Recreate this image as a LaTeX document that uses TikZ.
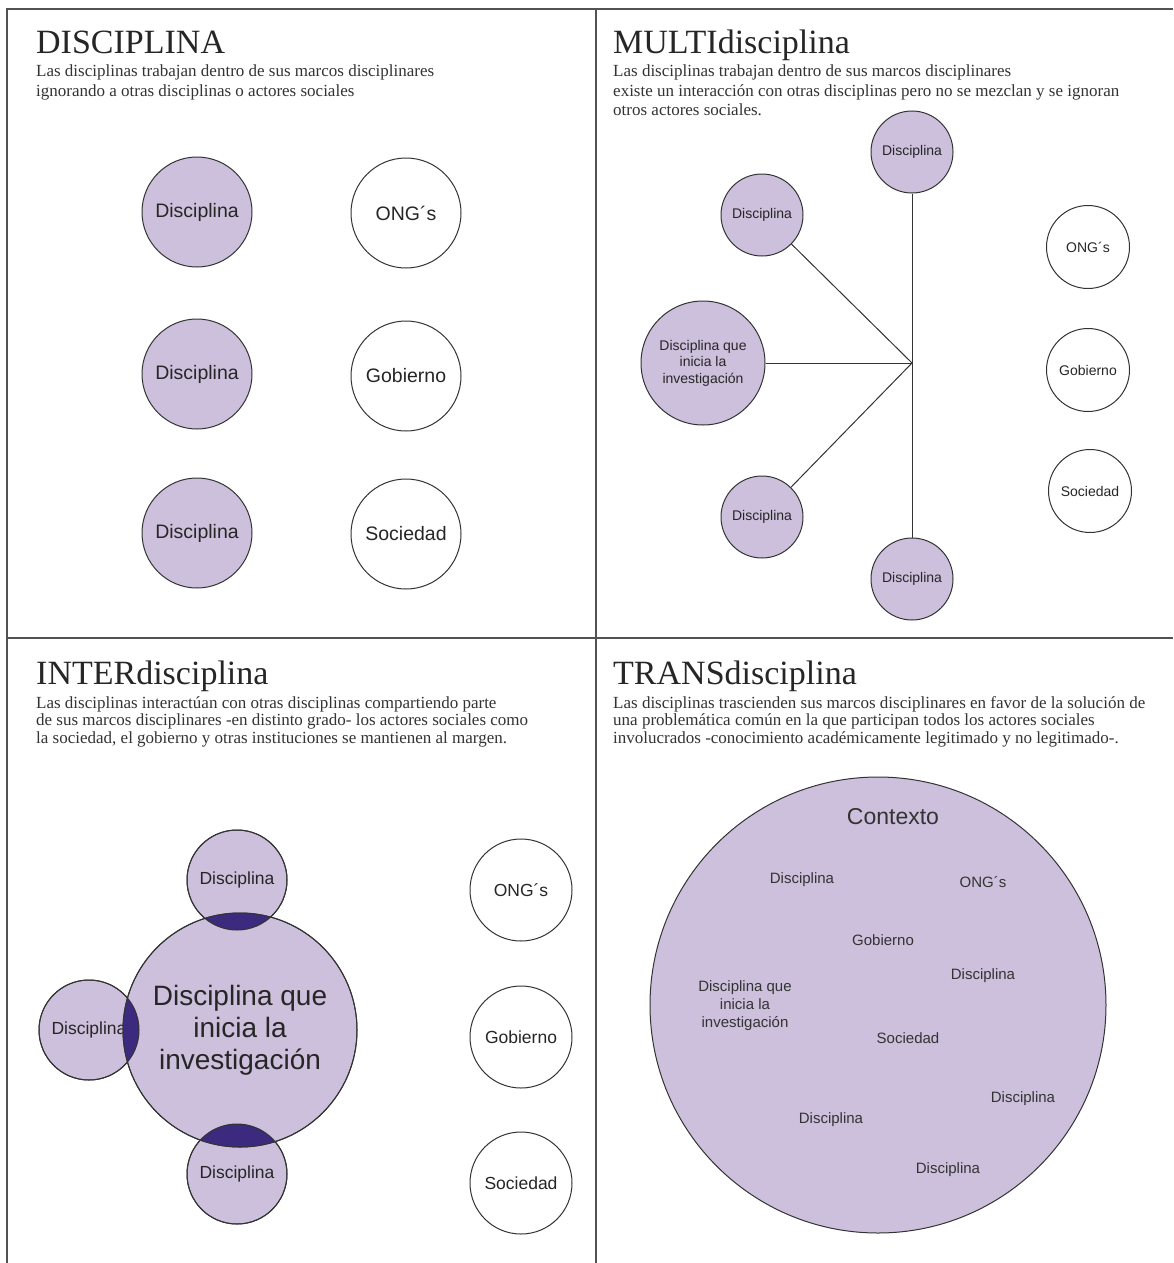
\documentclass[tikz,border=0pt]{standalone}
\usepackage{fontspec}
\setmainfont{Liberation Serif}
\newfontfamily\arialf{Liberation Sans}
\definecolor{lav}{HTML}{CDC0DC}
\definecolor{deep}{HTML}{3B2A7E}
\definecolor{ink}{HTML}{333333}
\begin{document}
\begin{tikzpicture}[x=1pt,y=-1pt,
  frameline/.style={draw=ink!85, line width=1.3pt},
  ttl/.style={anchor=base west, inner sep=0, font=\fontsize{34}{40}\selectfont, text=black!85},
  bodytxt/.style={anchor=base west, inner sep=0, font=\fontsize{17}{19}\selectfont, text=black!80},
  disc/.style={circle, draw=ink, line width=1pt, fill=lav, inner sep=0, text=black!85, align=center},
  actor/.style={circle, draw=ink, line width=1pt, fill=white, inner sep=0, text=black!85, align=center},
  lbl/.style={inner sep=0, text=black!80, align=center, font=\arialf\fontsize{15}{18}\selectfont},
  link/.style={draw=ink, line width=1pt},
  fsA/.style={font=\arialf\fontsize{19.5}{22}\selectfont},
  fsB/.style={font=\arialf\fontsize{14}{16.5}\selectfont},
  fsC/.style={font=\arialf\fontsize{17.5}{20}\selectfont},
  fsD/.style={font=\arialf\fontsize{28}{32}\selectfont},
]
\useasboundingbox[fill=white] (0,0) rectangle (1173,1263);
% frame
\draw[frameline] (7,1263) -- (7,9) -- (1173,9);
\draw[frameline] (596,9) -- (596,1263);
\draw[frameline] (7,638) -- (1173,638);

% ---------- Panel 1 ----------
\node[ttl] (t1) at (36,53) {DISCIPLINA};
\node[bodytxt] (b1a) at (36,77) {Las disciplinas trabajan dentro de sus marcos disciplinares};
\node[bodytxt] (b1b) at (36,96) {ignorando a otras disciplinas o actores sociales};
\node[disc, fsA, minimum size=110] (p1d1) at (197,212) {Disciplina};
\node[disc, fsA, minimum size=110] (p1d2) at (197,374) {Disciplina};
\node[disc, fsA, minimum size=110] (p1d3) at (197,533) {Disciplina};
\node[actor, fsA, minimum size=110] (p1ong) at (406,213) {ONG´s};
\node[actor, fsA, minimum size=110] (p1gob) at (406,376) {Gobierno};
\node[actor, fsA, minimum size=110] (p1soc) at (406,534) {Sociedad};

% ---------- Panel 2 ----------
\node[ttl] (t2) at (613,53) {MULTIdisciplina};
\node[bodytxt] (b2a) at (613,77) {Las disciplinas trabajan dentro de sus marcos disciplinares};
\node[bodytxt] (b2b) at (613,96) {existe un interacción con otras disciplinas pero no se mezclan y se ignoran};
\node[bodytxt] (b2c) at (613,115) {otros actores sociales.};
\coordinate (hub) at (912,363);
\node[disc, fsB, minimum size=82] (p2top) at (912,152) {Disciplina};
\node[disc, fsB, minimum size=82] (p2ul) at (762,215) {Disciplina};
\node[disc, fsB, minimum size=124] (p2main) at (703,363) {Disciplina que\\inicia la\\investigación};
\node[disc, fsB, minimum size=82] (p2ll) at (762,517) {Disciplina};
\node[disc, fsB, minimum size=82] (p2bot) at (912,579) {Disciplina};
\draw[link] (p2top.south) -- (p2bot.north);
\draw[link] (p2ul) -- (hub);
\draw[link] (p2main) -- (hub);
\draw[link] (p2ll) -- (hub);
\node[actor, fsB, minimum size=83] (p2ong) at (1088,247) {ONG´s};
\node[actor, fsB, minimum size=83] (p2gob) at (1088,370) {Gobierno};
\node[actor, fsB, minimum size=83] (p2soc) at (1090,491) {Sociedad};

% ---------- Panel 3 ----------
\node[ttl] (t3) at (36,684) {INTERdisciplina};
\node[bodytxt] (b3a) at (36,708) {Las disciplinas interactúan con otras disciplinas compartiendo parte};
\node[bodytxt] (b3b) at (36,725.5) {de sus marcos disciplinares -en distinto grado- los actores sociales como};
\node[bodytxt] (b3c) at (36,743) {la sociedad, el gobierno y otras instituciones se mantienen al margen.};
\node[disc, fsC, minimum size=100] (p3top) at (237,880) {Disciplina};
\node[disc, fsC, minimum size=100] (p3left) at (89,1030) {Disciplina};
\node[disc, fsC, minimum size=100] (p3bot) at (237,1174) {Disciplina};
\node[disc, fsD, minimum size=234] (p3main) at (240,1030) {Disciplina que\\inicia la\\investigación};
\begin{scope}
  \clip (p3main.center) circle (117);
  \fill[deep] (p3top.center) circle (50);
  \fill[deep] (p3left.center) circle (50);
  \fill[deep] (p3bot.center) circle (50);
\end{scope}
\draw[ink, line width=1pt] (p3top.center) circle (50) (p3left.center) circle (50) (p3bot.center) circle (50) (p3main.center) circle (117);
\node[actor, fsC, minimum size=102] (p3ong) at (521,890) {ONG´s};
\node[actor, fsC, minimum size=102] (p3gob) at (521,1037) {Gobierno};
\node[actor, fsC, minimum size=102] (p3soc) at (521,1183) {Sociedad};

% ---------- Panel 4 ----------
\node[ttl] (t4) at (613,684) {TRANSdisciplina};
\node[bodytxt] (b4a) at (613,708) {Las disciplinas trascienden sus marcos disciplinares en favor de la solución de};
\node[bodytxt] (b4b) at (613,725.5) {una problemática común en la que participan todos los actores sociales};
\node[bodytxt] (b4c) at (613,743) {involucrados -conocimiento académicamente legitimado y no legitimado-.};
\node[disc, minimum size=456] (p4ctx) at (878,1005) {};
\node[lbl, font=\arialf\fontsize{23}{26}\selectfont] (p4title) at (893,817) {Contexto};
\node[lbl] (p4d1) at (802,880) {Disciplina};
\node[lbl] (p4ong) at (983,882) {ONG´s};
\node[lbl] (p4gob) at (883,940) {Gobierno};
\node[lbl] (p4d2) at (983,976) {Disciplina};
\node[lbl] (p4main) at (745,1006) {Disciplina que\\inicia la\\investigación};
\node[lbl] (p4soc) at (908,1038) {Sociedad};
\node[lbl] (p4d3) at (1023,1099) {Disciplina};
\node[lbl] (p4d4) at (831,1120) {Disciplina};
\node[lbl] (p4d5) at (948,1170) {Disciplina};
\end{tikzpicture}
\end{document}
